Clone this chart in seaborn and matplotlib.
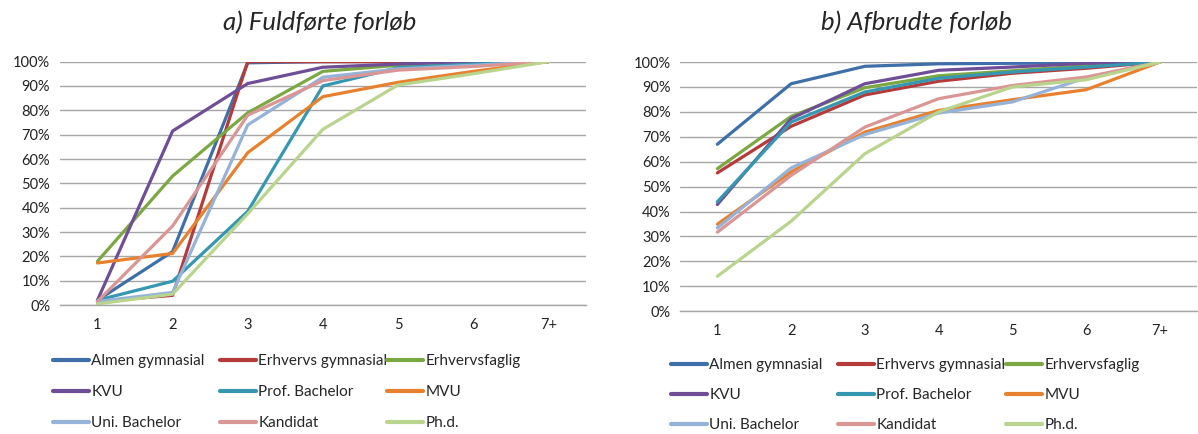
import pandas as pd
import numpy as np
import matplotlib
matplotlib.use("Agg")
import matplotlib.pyplot as plt
import seaborn as sns

# Kategorier og serier
aar = ["1", "2", "3", "4", "5", "6", "7+"]
grupper = ["Almen gymnasial", "Erhvervs gymnasial", "Erhvervsfaglig",
           "KVU", "Prof. Bachelor", "MVU",
           "Uni. Bachelor", "Kandidat", "Ph.d."]
farver = ["#3E6FA8", "#B53A3A", "#7BA843",
          "#6E4E96", "#3597B0", "#E8812F",
          "#95B3D9", "#D99694", "#B9D48D"]

# a) Fuldførte forløb (andel, %)
fuld_almen = [2, 22, 99.5, 100, 100, 100, 100]
fuld_erhv_gym = [1.5, 4, 100, 100, 100, 100, 100]
fuld_erhvfag = [18, 53, 79, 96, 98.5, 99.5, 100]
fuld_kvu = [2, 71.5, 91, 97.7, 99, 100, 100]
fuld_prof = [2, 9.8, 38.5, 90, 97.5, 99, 100]
fuld_mvu = [17.3, 21.2, 62.6, 85.6, 91.5, 96, 100]
fuld_uni = [1.5, 5.2, 74, 93.6, 97, 98.5, 100]
fuld_kand = [1.5, 32.5, 78, 92.2, 96.5, 98, 100]
fuld_phd = [0.5, 4.5, 37.5, 72.2, 90.4, 95, 100]

# b) Afbrudte forløb (andel, %)
afb_almen = [67, 91.3, 98.3, 99.3, 99.5, 99.7, 100]
afb_erhv_gym = [55.5, 74.2, 86.8, 92.3, 95.5, 97.5, 100]
afb_erhvfag = [57.2, 78.2, 89.7, 94.5, 96.5, 98.5, 100]
afb_kvu = [42.8, 77.3, 91.3, 96.7, 98, 99.5, 100]
afb_prof = [43.9, 75.9, 88, 93.5, 96, 98, 100]
afb_mvu = [34.9, 55.9, 71.9, 80.6, 84.9, 88.9, 100]
afb_uni = [33.4, 57.5, 70.9, 79.5, 84, 93.7, 100]
afb_kand = [31.7, 54.5, 73.9, 85.3, 90.6, 94, 100]
afb_phd = [14, 36.1, 63.2, 80, 90, 92.9, 100]

fuld = [fuld_almen, fuld_erhv_gym, fuld_erhvfag, fuld_kvu, fuld_prof,
        fuld_mvu, fuld_uni, fuld_kand, fuld_phd]
afb = [afb_almen, afb_erhv_gym, afb_erhvfag, afb_kvu, afb_prof,
       afb_mvu, afb_uni, afb_kand, afb_phd]


def lang_df(serier):
    rows = []
    for g, vals in zip(grupper, serier):
        for i, v in enumerate(vals):
            rows.append({"aar": i, "gruppe": g, "andel": v / 100})
    return pd.DataFrame(rows)


sns.set_style("white")
plt.rcParams["font.family"] = ["Lato", "DejaVu Sans"]

fig = plt.figure(figsize=(11.98, 4.34), dpi=100)
ax1 = fig.add_axes([0.050, 0.297, 0.439, 0.561])
ax2 = fig.add_axes([0.568, 0.283, 0.431, 0.574])

palette = dict(zip(grupper, farver))
grid_col = "#A6A6A6"

for ax, serier in [(ax1, fuld), (ax2, afb)]:
    df = lang_df(serier)
    sns.lineplot(data=df, x="aar", y="andel", hue="gruppe", hue_order=grupper,
                 palette=palette, linewidth=2.3, sort=False, ax=ax, legend=False)
    ax.set_xlim(-0.5, 6.5)
    ax.set_ylim(0, 1)
    yt = np.arange(0, 1.01, 0.1)
    ax.set_yticks(yt)
    ax.set_yticklabels([f"{int(round(t * 100))}%" for t in yt])
    ax.set_xticks(range(7))
    ax.set_xticklabels(aar)
    ax.set_xticks(np.arange(-0.5, 7, 1), minor=True)
    ax.tick_params(axis="x", which="major", length=0, pad=9, labelsize=10.5, labelcolor="#222222")
    ax.tick_params(axis="x", which="minor", length=5, color=grid_col, width=1)
    ax.tick_params(axis="y", length=5, color=grid_col, width=1, labelsize=10.5,
                   labelcolor="#222222", pad=2)
    ax.grid(axis="y", color=grid_col, linewidth=1)
    ax.set_axisbelow(True)
    ax.set_xlabel("")
    ax.set_ylabel("")
    for s in ["top", "right", "left"]:
        ax.spines[s].set_visible(False)
    ax.spines["bottom"].set_color(grid_col)
    ax.spines["bottom"].set_linewidth(1)

# Legender: tre kolonner under hver figur
handles = [plt.Line2D([], [], color=c, linewidth=3) for c in farver]
leg_kol_x = {ax1: [53, 220, 387], ax2: [671, 838, 1006]}
leg_mid_y = {ax1: 392, ax2: 395}
leg_spacing = {ax1: 1.12, ax2: 1.05}
for ax in [ax1, ax2]:
    for k in range(3):
        idx = [k, k + 3, k + 6]
        fig.legend([handles[i] for i in idx], [grupper[i] for i in idx],
                   loc="center left", frameon=False,
                   bbox_to_anchor=(leg_kol_x[ax][k] / 1198, 1 - leg_mid_y[ax] / 434),
                   fontsize=11, handlelength=2.35, handletextpad=0.15,
                   labelspacing=leg_spacing[ax], borderpad=0, borderaxespad=0)

fig.text(0.267, 0.948, "a) Fuldførte forløb", ha="center", va="center",
         fontsize=18.5, style="italic")
fig.text(0.765, 0.948, "b) Afbrudte forløb", ha="center", va="center",
         fontsize=18.5, style="italic")

fig.savefig("out.png", dpi=100)
